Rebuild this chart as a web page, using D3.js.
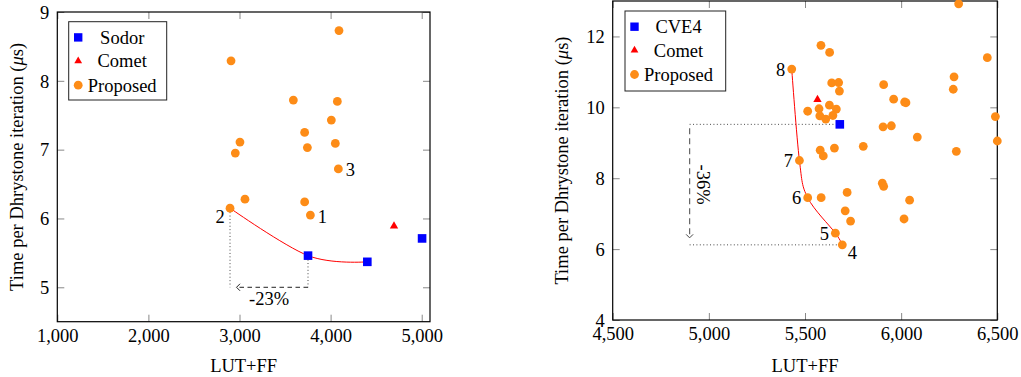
<!DOCTYPE html>
<html>
<head>
<meta charset="utf-8">
<script src="https://cdn.jsdelivr.net/npm/d3@7"></script>
<style>
  html, body { margin: 0; padding: 0; background: #fff; }
  svg, svg text { font-family: "Liberation Serif", "Times New Roman", Times, serif; }
</style>
</head>
<body>
<svg id="chart" width="1021" height="377"></svg>
<script>
// --- DATA --------------------------------------------------------------------
// left panel: LUT+FF vs time per Dhrystone iteration
const leftSodor    = [[3752, 5.46], [4403, 5.37], [5004, 5.71]];
const leftComet    = [[4696, 5.89]];
const leftProposed = [
  [2907, 8.29], [4092, 8.73], [3591, 7.72], [4074, 7.70], [4008, 7.43],
  [3715, 7.25], [3745, 7.03], [4052, 7.09], [3005, 7.11], [2954, 6.95],
  [4085, 6.72], [3060, 6.28], [2896, 6.15], [3715, 6.24], [3778, 6.05]
];
const leftFront    = [[2896, 6.15], [3752, 5.46], [4403, 5.37]];
const leftLabels   = [['1', 3778, 6.05], ['2', 2896, 6.15], ['3', 4085, 6.72]];
const leftXTicks   = [1000, 2000, 3000, 4000, 5000];
const leftYTicks   = [5, 6, 7, 8, 9];

// right panel
const rightCve4     = [[5681, 9.52]];
const rightComet    = [[5565, 10.22]];
const rightProposed = [
  [6299, 12.92], [5583, 11.75], [5628, 11.55], [5431, 11.08], [6448, 11.40],
  [6275, 10.86], [6271, 10.51], [5639, 10.69], [5675, 10.70], [5679, 10.46],
  [5909, 10.64], [5961, 10.23], [6018, 10.15], [6025, 10.13], [5514, 9.89],
  [5573, 9.96], [5627, 10.06], [5663, 9.95], [5577, 9.76], [5608, 9.67],
  [5645, 9.77], [5906, 9.45], [5949, 9.48], [6490, 9.74], [6084, 9.16],
  [6500, 9.05], [5803, 8.90], [5579, 8.79], [5595, 8.63], [5653, 8.85],
  [6287, 8.76], [5471, 8.50], [5902, 7.86], [5909, 7.77], [5719, 7.60],
  [6044, 7.38], [5514, 7.45], [5584, 7.45], [5709, 7.08], [5737, 6.79],
  [6015, 6.85], [5658, 6.45], [5694, 6.12]
];
const rightFront    = [[5431, 11.08], [5471, 8.50], [5514, 7.45], [5658, 6.45], [5694, 6.12]];
const rightLabels   = [['8', 5431, 11.08], ['7', 5471, 8.50], ['6', 5514, 7.45], ['5', 5658, 6.45], ['4', 5694, 6.12]];
const rightXTicks   = [4500, 5000, 5500, 6000, 6500];
const rightYTicks   = [4, 6, 8, 10, 12];

// annotations (data units)
const leftGap  = { x0: 3752, x1: 2896, y: 5.0, top0: 5.46, top1: 6.15, text: '-23%' };
const rightGap = { y0: 9.52, y1: 6.12, x: 4900, end0: 5681, end1: 5694, text: '-36%' };

// --- STYLE -------------------------------------------------------------------
const FONT      = '"Liberation Serif", "Times New Roman", Times, serif';
const FONT_PX   = 18.5;
const TICK_LEN  = 7;
const ORANGE    = '#fd8c17';
const BLUE      = '#0000ff';
const RED       = '#ff0000';
const TICK_COL  = '#888';
const DOT_R     = 4.4;
const SQ        = 8.6;

const svg = d3.select('#chart').attr('font-family', FONT);

function label(sel) {
  return sel.attr('font-family', FONT).attr('font-size', FONT_PX).attr('fill', '#000');
}

function drawPanel(cfg) {
  const x = d3.scaleLinear().domain(cfg.xDomain).range([cfg.x0, cfg.x1]);
  const y = d3.scaleLinear().domain(cfg.yDomain).range([cfg.y1, cfg.y0]);
  const g = svg.append('g');

  // ticks on all four sides, pointing inward
  const fmt = d3.format(',');
  const ax = g.append('g').attr('transform', `translate(0,${cfg.y1})`)
    .call(d3.axisBottom(x).tickValues(cfg.xTicks).tickSize(-TICK_LEN).tickFormat(fmt));
  ax.selectAll('text').attr('y', 20).attr('dy', null);
  const axt = g.append('g').attr('transform', `translate(0,${cfg.y0})`)
    .call(d3.axisTop(x).tickValues(cfg.xTicks).tickSize(-TICK_LEN).tickFormat(''));
  const ay = g.append('g').attr('transform', `translate(${cfg.x0},0)`)
    .call(d3.axisLeft(y).tickValues(cfg.yTicks).tickSize(-TICK_LEN).tickPadding(8).tickFormat(d3.format('d')));
  ay.selectAll('text').attr('dy', '0.34em');
  const ayr = g.append('g').attr('transform', `translate(${cfg.x1},0)`)
    .call(d3.axisRight(y).tickValues(cfg.yTicks).tickSize(-TICK_LEN).tickFormat(''));

  [ax, axt, ay, ayr].forEach(a => {
    a.attr('font-family', FONT).attr('font-size', FONT_PX);
    a.select('.domain').remove();
    a.selectAll('line').attr('stroke', TICK_COL).attr('stroke-width', 1);
    label(a.selectAll('text'));
  });

  // frame
  g.append('rect')
    .attr('x', cfg.x0).attr('y', cfg.y0)
    .attr('width', cfg.x1 - cfg.x0).attr('height', cfg.y1 - cfg.y0)
    .attr('fill', 'none').attr('stroke', '#000').attr('stroke-width', 1.2);

  // axis titles
  label(g.append('text'))
    .attr('x', (cfg.x0 + cfg.x1) / 2).attr('y', 371.5)
    .attr('text-anchor', 'middle')
    .text('LUT+FF');
  const yl = label(g.append('text'))
    .attr('transform', `translate(${cfg.yLabelX},${(cfg.y0 + cfg.y1) / 2}) rotate(-90)`)
    .attr('text-anchor', 'middle');
  yl.append('tspan').text('Time per Dhrystone iteration (');
  yl.append('tspan').attr('font-style', 'italic').text('μ');
  yl.append('tspan').text('s)');

  return { g, x, y };
}

function drawFront(p, pts) {
  p.g.append('path')
    .datum(pts)
    .attr('fill', 'none').attr('stroke', RED).attr('stroke-width', 1)
    .attr('d', d3.line().x(d => p.x(d[0])).y(d => p.y(d[1])).curve(d3.curveCardinal.tension(0)));
}

function drawCircles(p, pts) {
  p.g.append('g').selectAll('circle').data(pts).join('circle')
    .attr('cx', d => p.x(d[0])).attr('cy', d => p.y(d[1]))
    .attr('r', DOT_R).attr('fill', ORANGE);
}

function drawSquares(p, pts) {
  p.g.append('g').selectAll('rect').data(pts).join('rect')
    .attr('x', d => p.x(d[0]) - SQ / 2).attr('y', d => p.y(d[1]) - SQ / 2)
    .attr('width', SQ).attr('height', SQ).attr('fill', BLUE);
}

function drawTriangles(p, pts) {
  const sym = d3.symbol(d3.symbolTriangle).size(30);
  p.g.append('g').selectAll('path').data(pts).join('path')
    .attr('transform', d => `translate(${p.x(d[0])},${p.y(d[1])})`)
    .attr('d', sym).attr('fill', RED);
}

function drawLabels(p, labels, offsets) {
  label(p.g.append('g').selectAll('text').data(labels).join('text'))
    .attr('x', d => p.x(d[1]) + offsets[d[0]][0])
    .attr('y', d => p.y(d[2]) + offsets[d[0]][1])
    .attr('text-anchor', 'middle').attr('dy', '0.35em')
    .text(d => d[0]);
}

function drawLegend(x0, y0, w, h, names) {
  const g = svg.append('g').attr('transform', `translate(${x0},${y0})`);
  g.append('rect').attr('width', w).attr('height', h)
    .attr('fill', '#fff').attr('stroke', '#222').attr('stroke-width', 1);
  const rows = [15.7, 39.3, 63.5];
  g.append('rect').attr('x', 9.5 - 4.2).attr('y', rows[0] - 4.2)
    .attr('width', 8.4).attr('height', 8.4).attr('fill', BLUE);
  g.append('path').attr('transform', `translate(9.5,${rows[1]})`)
    .attr('d', d3.symbol(d3.symbolTriangle).size(26)).attr('fill', RED);
  g.append('circle').attr('cx', 9.5).attr('cy', rows[2]).attr('r', DOT_R).attr('fill', ORANGE);
  names.forEach((n, i) => {
    label(g.append('text')).attr('x', 53.5).attr('y', rows[i]).attr('dy', '0.35em')
      .attr('text-anchor', 'middle').text(n);
  });
}

// --- LEFT PANEL ----------------------------------------------------------------
const L = drawPanel({
  x0: 57.3, x1: 430, y0: 12, y1: 321.7,
  xDomain: [1000, 5091], yDomain: [4.5, 9],
  xTicks: leftXTicks, yTicks: leftYTicks, yLabelX: 22.5
});

// dotted drop lines + dashed arrow
L.g.append('line')
  .attr('x1', L.x(leftGap.x1)).attr('x2', L.x(leftGap.x1))
  .attr('y1', L.y(leftGap.top1) + 4).attr('y2', L.y(leftGap.y))
  .attr('stroke', '#333').attr('stroke-width', 0.9).attr('stroke-dasharray', '1,2.4');
L.g.append('line')
  .attr('x1', L.x(leftGap.x0)).attr('x2', L.x(leftGap.x0))
  .attr('y1', L.y(leftGap.top0) + 4).attr('y2', L.y(leftGap.y))
  .attr('stroke', '#333').attr('stroke-width', 0.9).attr('stroke-dasharray', '1,2.4');
{
  const ya = L.y(leftGap.y);
  const tip = L.x(leftGap.x1) + 6.5;
  L.g.append('line')
    .attr('x1', L.x(leftGap.x0)).attr('x2', tip).attr('y1', ya).attr('y2', ya)
    .attr('stroke', '#222').attr('stroke-width', 1).attr('stroke-dasharray', '4.5,3.5');
  L.g.append('path')
    .attr('d', `M${tip + 3.5},${ya - 3.5} L${tip},${ya} L${tip + 3.5},${ya + 3.5}`)
    .attr('fill', 'none').attr('stroke', '#222').attr('stroke-width', 1);
  label(L.g.append('text'))
    .attr('x', (L.x(leftGap.x0) + L.x(leftGap.x1)) / 2).attr('y', ya + 18)
    .attr('text-anchor', 'middle').text(leftGap.text);
}

drawFront(L, leftFront);
drawCircles(L, leftProposed);
drawSquares(L, leftSodor);
drawTriangles(L, leftComet);
drawLabels(L, leftLabels, { '1': [12, 1], '2': [-10, 8], '3': [12, 1] });
drawLegend(68.7, 21.7, 98, 78.3, ['Sodor', 'Comet', 'Proposed']);

// --- RIGHT PANEL ---------------------------------------------------------------
const R = drawPanel({
  x0: 612.7, x1: 997.3, y0: 1, y1: 320,
  xDomain: [4500, 6500], yDomain: [4, 13],
  xTicks: rightXTicks, yTicks: rightYTicks, yLabelX: 567.5
});

R.g.append('line')
  .attr('x1', R.x(rightGap.x)).attr('x2', R.x(rightGap.end0) - 4)
  .attr('y1', R.y(rightGap.y0)).attr('y2', R.y(rightGap.y0))
  .attr('stroke', '#333').attr('stroke-width', 0.9).attr('stroke-dasharray', '1,2.4');
R.g.append('line')
  .attr('x1', R.x(rightGap.x)).attr('x2', R.x(rightGap.end1) - 4)
  .attr('y1', R.y(rightGap.y1)).attr('y2', R.y(rightGap.y1))
  .attr('stroke', '#333').attr('stroke-width', 0.9).attr('stroke-dasharray', '1,2.4');
{
  const xa = R.x(rightGap.x);
  const tip = R.y(rightGap.y1) - 7;
  R.g.append('line')
    .attr('x1', xa).attr('x2', xa).attr('y1', R.y(rightGap.y0) + 4).attr('y2', tip)
    .attr('stroke', '#666').attr('stroke-width', 1.2).attr('stroke-dasharray', '6,4');
  R.g.append('path')
    .attr('d', `M${xa - 3.5},${tip - 3.5} L${xa},${tip} L${xa + 3.5},${tip - 3.5}`)
    .attr('fill', 'none').attr('stroke', '#444').attr('stroke-width', 1);
  label(R.g.append('text'))
    .attr('transform', `translate(${xa + 14},${(R.y(rightGap.y0) + R.y(rightGap.y1)) / 2}) rotate(90)`)
    .attr('text-anchor', 'middle').attr('dy', '0.35em')
    .text(rightGap.text);
}

drawFront(R, rightFront);
drawCircles(R, rightProposed);
drawSquares(R, rightCve4);
drawTriangles(R, rightComet);
drawLabels(R, rightLabels, {
  '8': [-11, 0], '7': [-11, 0], '6': [-11, 0], '5': [-11, 0], '4': [10, 8]
});
drawLegend(625, 11, 100.7, 80, ['CVE4', 'Comet', 'Proposed']);
</script>
</body>
</html>
